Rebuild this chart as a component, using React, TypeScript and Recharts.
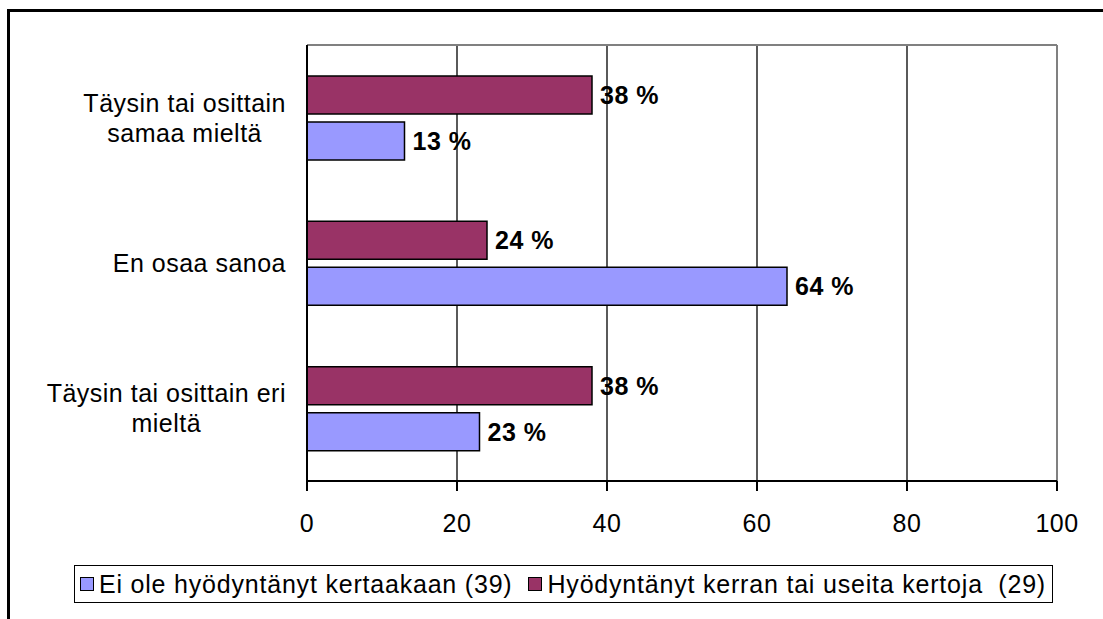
import React from 'react';
import { BarChart, Bar, XAxis, YAxis, CartesianGrid, ReferenceLine, LabelList } from 'recharts';

const categories = ['Täysin tai osittain\nsamaa mieltä', 'En osaa sanoa', 'Täysin tai osittain eri\nmieltä'];
const usedValues = [38, 24, 38];
const neverValues = [13, 64, 23];
const xTicks = [0, 20, 40, 60, 80, 100];
const seriesNames = ['Ei ole hyödyntänyt kertaakaan (39)', 'Hyödyntänyt kerran tai useita kertoja  (29)'];

const BLUE = '#9999FF';
const PURPLE = '#993366';
const FONT = "Arial, 'Liberation Sans', sans-serif";

const data = categories.map((name, i) => ({
  name,
  never: neverValues[i],
  used: usedValues[i],
}));

const CategoryTick = (props: any) => {
  const { x, y, payload } = props;
  const lines = String(payload.value).split('\n');
  return (
    <foreignObject x={x - 280} y={y - 40} width={280} height={80}>
      <div style={{ display: 'flex', justifyContent: 'flex-end', alignItems: 'center', height: 80 }}>
        <div style={{ textAlign: 'center', fontFamily: FONT, fontSize: 25, letterSpacing: 0.5, lineHeight: '30px', color: '#000' }}>
          {lines.map((l, i) => <div key={i}>{l}</div>)}
        </div>
      </div>
    </foreignObject>
  );
};

const LegendSwatch = ({ color }: { color: string }) => (
  <span style={{ display: 'inline-block', width: 12, height: 12, background: color, border: '1.5px solid #000', marginRight: 5 }} />
);

const labelStyle = { fill: '#000', fontSize: 25, fontWeight: 'bold', letterSpacing: 0.5, fontFamily: FONT };

export default function App() {
  return (
    <div style={{ position: 'fixed', left: 0, top: 0, width: 1103, height: 619, background: '#fff', overflow: 'hidden' }}>
      <div style={{ position: 'absolute', left: 7, top: 9, width: 1200, height: 700, borderLeft: '3px solid #000', borderTop: '3px solid #000' }} />
      <div style={{ position: 'absolute', left: 0, top: 0 }}>
        <BarChart
          width={1103}
          height={619}
          data={data}
          layout="vertical"
          margin={{ top: 45, right: 46, left: 7, bottom: 98 }}
          barSize={38}
          barGap={8}
          style={{ fontFamily: FONT }}
        >
          <CartesianGrid horizontal={false} stroke="#000" strokeWidth={1.3} />
          {/* gray top edge of the plot frame */}
          <CartesianGrid
            vertical={false}
            stroke="#808080"
            strokeWidth={2}
            horizontalCoordinatesGenerator={({ offset }: any) => [offset.top]}
          />
          <XAxis
            type="number"
            domain={[0, 100]}
            ticks={xTicks}
            height={40}
            tickSize={10}
            tickMargin={23}
            axisLine={{ stroke: '#000', strokeWidth: 2 }}
            tickLine={{ stroke: '#000', strokeWidth: 2 }}
            tick={{ fill: '#000', fontSize: 25, letterSpacing: 0.5 }}
          />
          <YAxis
            type="category"
            dataKey="name"
            width={300}
            tickSize={0}
            tickMargin={21}
            axisLine={{ stroke: '#000', strokeWidth: 2 }}
            tickLine={false}
            tick={<CategoryTick />}
          />
          <ReferenceLine x={100} stroke="#808080" strokeWidth={2} />
          <Bar dataKey="used" name={seriesNames[1]} fill={PURPLE} stroke="#000" strokeWidth={1.5} isAnimationActive={false}>
            <LabelList dataKey="used" position="right" offset={8} formatter={(v: any) => `${v} %`} style={labelStyle} />
          </Bar>
          <Bar dataKey="never" name={seriesNames[0]} fill={BLUE} stroke="#000" strokeWidth={1.5} isAnimationActive={false}>
            <LabelList dataKey="never" position="right" offset={8} formatter={(v: any) => `${v} %`} style={labelStyle} />
          </Bar>
        </BarChart>
      </div>
      <div
        style={{
          position: 'absolute', right: 50, top: 565, height: 38, boxSizing: 'border-box',
          border: '1.5px solid #000', display: 'flex', alignItems: 'center', padding: '0 6px 0 5px',
          fontFamily: FONT, fontSize: 25, letterSpacing: 0.8, color: '#000', whiteSpace: 'pre',
        }}
      >
        <LegendSwatch color={BLUE} />
        <span>{seriesNames[0]}</span>
        <span style={{ width: 16 }} />
        <LegendSwatch color={PURPLE} />
        <span>{seriesNames[1]}</span>
      </div>
    </div>
  );
}
